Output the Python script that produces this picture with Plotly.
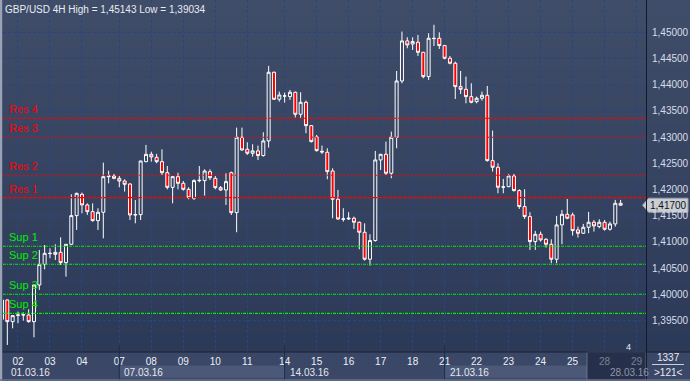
import plotly.graph_objects as go

# ---------------- data ----------------
bar_index = list(range(-1, 116))
open_p = [1.39523, 1.39892, 1.39478, 1.39600, 1.39605, 1.39605, 1.39478, 1.40178, 1.40572, 1.40776,
          1.40763, 1.40801, 1.40604, 1.40954, 1.41501, 1.41908, 1.41705, 1.41577, 1.41405, 1.41565,
          1.42245, 1.42258, 1.42213, 1.42162, 1.42105, 1.41514, 1.41520, 1.42531, 1.42672, 1.42614,
          1.42531, 1.42321, 1.42041, 1.42245, 1.42118, 1.42003, 1.41832, 1.42169, 1.42169, 1.42340,
          1.42213, 1.42035, 1.41991, 1.42321, 1.41559, 1.42997, 1.42768, 1.42691, 1.42736, 1.42647,
          1.42927, 1.44237, 1.43722, 1.43785, 1.43773, 1.43855, 1.43435, 1.43664, 1.43219, 1.43003,
          1.42729, 1.42710, 1.42354, 1.41814, 1.41432, 1.41438, 1.41451, 1.41375, 1.41184, 1.40669,
          1.41025, 1.42564, 1.42672, 1.42310, 1.42997, 1.44071, 1.44835, 1.44777, 1.44809, 1.44618,
          1.44154, 1.44886, 1.44886, 1.44746, 1.44504, 1.44409, 1.43963, 1.43912, 1.43773, 1.43677,
          1.43741, 1.43798, 1.42551, 1.42424, 1.42043, 1.42055, 1.42259, 1.41979, 1.41674, 1.41483,
          1.41006, 1.41146, 1.41050, 1.40955, 1.40669, 1.41324, 1.41527, 1.41515, 1.41229, 1.41165,
          1.41279, 1.41375, 1.41292, 1.41375, 1.41241, 1.41343, 1.41737]
high_p = [1.39920, 1.39900, 1.39600, 1.39669, 1.39656, 1.39714, 1.40185, 1.40846, 1.40941, 1.40878,
          1.40954, 1.41087, 1.40960, 1.41908, 1.41940, 1.41940, 1.41736, 1.41736, 1.41641, 1.42512,
          1.42360, 1.42296, 1.42258, 1.42194, 1.42118, 1.41800, 1.42550, 1.42850, 1.42722, 1.42680,
          1.42767, 1.42449, 1.42258, 1.42321, 1.42162, 1.42042, 1.42194, 1.42449, 1.42385, 1.42385,
          1.42258, 1.42067, 1.42309, 1.42341, 1.43181, 1.43181, 1.42901, 1.42863, 1.42838, 1.43092,
          1.44358, 1.44250, 1.43868, 1.43849, 1.43900, 1.43868, 1.43855, 1.43696, 1.43226, 1.43041,
          1.42838, 1.42787, 1.42405, 1.41992, 1.41642, 1.41566, 1.41483, 1.41387, 1.41355, 1.41146,
          1.42736, 1.42678, 1.42914, 1.43105, 1.44262, 1.45013, 1.44905, 1.44905, 1.44949, 1.44625,
          1.44981, 1.45143, 1.45000, 1.44758, 1.44548, 1.44440, 1.44262, 1.44154, 1.44027, 1.43773,
          1.43868, 1.43976, 1.43124, 1.42501, 1.42202, 1.42297, 1.42297, 1.42004, 1.42004, 1.41566,
          1.41210, 1.41197, 1.41070, 1.41050, 1.41496, 1.41610, 1.41820, 1.41559, 1.41292, 1.41343,
          1.41572, 1.41419, 1.41432, 1.41419, 1.41387, 1.41801, 1.41801]
low_p = [1.39480, 1.39034, 1.39351, 1.39447, 1.39497, 1.39459, 1.39179, 1.40083, 1.40477, 1.40687,
         1.40655, 1.40560, 1.40337, 1.40941, 1.41228, 1.41545, 1.41514, 1.41386, 1.41228, 1.41068,
         1.42118, 1.42194, 1.42042, 1.41959, 1.41418, 1.41355, 1.41418, 1.42520, 1.42531, 1.42500,
         1.42277, 1.42003, 1.41736, 1.42003, 1.41978, 1.41813, 1.41800, 1.42137, 1.41883, 1.42181,
         1.42003, 1.41972, 1.41705, 1.41514, 1.41184, 1.42736, 1.42660, 1.42628, 1.42564, 1.42628,
         1.42799, 1.43709, 1.43677, 1.43658, 1.43709, 1.43372, 1.43359, 1.43073, 1.42895, 1.42723,
         1.42679, 1.42195, 1.41451, 1.41419, 1.41387, 1.41419, 1.41247, 1.40860, 1.40643, 1.40548,
         1.41006, 1.42373, 1.42278, 1.42214, 1.42787, 1.44027, 1.44695, 1.44663, 1.44548, 1.44122,
         1.44090, 1.44739, 1.44682, 1.44485, 1.44389, 1.43728, 1.43823, 1.43645, 1.43645, 1.43645,
         1.43696, 1.42532, 1.42341, 1.41928, 1.41928, 1.42043, 1.41960, 1.41629, 1.41438, 1.40847,
         1.40847, 1.41006, 1.40891, 1.40593, 1.40593, 1.40955, 1.41432, 1.41120, 1.41082, 1.41152,
         1.41165, 1.41197, 1.41260, 1.41216, 1.41216, 1.41292, 1.41693]
close_p = [1.39891, 1.39478, 1.39593, 1.39605, 1.39610, 1.39478, 1.40178, 1.40572, 1.40782, 1.40782,
           1.40801, 1.40604, 1.40954, 1.41501, 1.41927, 1.41705, 1.41577, 1.41405, 1.41565, 1.42245,
           1.42258, 1.42213, 1.42162, 1.42099, 1.41514, 1.41520, 1.42544, 1.42671, 1.42621, 1.42531,
           1.42321, 1.42041, 1.42245, 1.42118, 1.42003, 1.41844, 1.42169, 1.42175, 1.42353, 1.42226,
           1.42035, 1.41991, 1.42150, 1.41558, 1.42997, 1.42755, 1.42691, 1.42736, 1.42647, 1.42927,
           1.44237, 1.43722, 1.43804, 1.43785, 1.43855, 1.43435, 1.43664, 1.43219, 1.42914, 1.42742,
           1.42717, 1.42341, 1.41814, 1.41438, 1.41438, 1.41451, 1.41375, 1.41184, 1.40669, 1.41025,
           1.42564, 1.42672, 1.42310, 1.42997, 1.44071, 1.44835, 1.44758, 1.44822, 1.44618, 1.44154,
           1.44886, 1.44880, 1.44746, 1.44504, 1.44409, 1.43963, 1.43912, 1.43773, 1.43664, 1.43741,
           1.43798, 1.42551, 1.42424, 1.42043, 1.42050, 1.42259, 1.41979, 1.41674, 1.41483, 1.41006,
           1.41146, 1.41038, 1.40955, 1.40669, 1.41324, 1.41527, 1.41451, 1.41216, 1.41165, 1.41279,
           1.41375, 1.41305, 1.41375, 1.41241, 1.41343, 1.41737, 1.41700]

day_ticks = [2, 8, 14, 21, 27, 33, 39, 45, 52, 58, 64, 70, 76, 82, 88, 94, 100, 106, 112, 118]
day_labels = ["02", "03", "04", "07", "08", "09", "10", "11", "14", "15",
              "16", "17", "18", "21", "22", "23", "24", "25", "28", "29"]
week_starts = [-0.8, 21, 52, 82, 112]
week_labels = ["01.03.16", "07.03.16", "14.03.16", "21.03.16", "28.03.16"]

price_ticks = [1.395, 1.400, 1.405, 1.410, 1.415, 1.420, 1.425, 1.430, 1.435, 1.440, 1.445, 1.450]
price_labels = ["1,39500", "1,40000", "1,40500", "1,41000", "1,41500", "1,42000",
                "1,42500", "1,43000", "1,43500", "1,44000", "1,44500", "1,45000"]

level_names = ["Res 4", "Res 3", "Res 2", "Res 1", "Sup 1", "Sup 2", "Sup 3", "Sup 4"]
level_values = [1.43359, 1.42996, 1.42271, 1.41844, 1.40918, 1.40573, 1.40000, 1.39637]
level_colors = ["#ff0000", "#ff0000", "#ff0000", "#ff0000", "#00f000", "#00f000", "#00f000", "#00f000"]
level_dash = ["4px,1px", "2px,2px", "2px,2px", "4px,1px",
              "3px,1px,1px,1px", "3px,1px,1px,1px", "3px,1px,1px,1px", "3px,1px,1px,1px"]

last_price = 1.41700
last_label = "1,41700"
title_text = "GBP/USD 4H High = 1,45143 Low = 1,39034"

# ---------------- geometry ----------------
W, H = 690, 381
ML, MR, MT, MB = 3, 44, 0, 29
PW, PH = W - ML - MR, H - MT - MB
X_RANGE = [-0.81, 119.76]
Y_RANGE = [1.38899, 1.45616]


def px(xp):
    return (xp - ML) / PW


def py(yp):
    return (PH + MT - yp) / PH


FONT = "Liberation Sans, Arial, sans-serif"
GRID = "#284679"

fig = go.Figure()
fig.add_trace(go.Candlestick(
    x=bar_index, open=open_p, high=high_p, low=low_p, close=close_p,
    increasing=dict(line=dict(color="#ffffff", width=1), fillcolor="rgba(0,0,0,0)"),
    decreasing=dict(line=dict(color="#ffffff", width=1), fillcolor="#ff0000"),
    whiskerwidth=0, showlegend=False, hoverinfo="skip",
))

shapes = []
# background gradient (full figure)
N = 40
top_c = (64, 77, 105)
bot_c = (42, 56, 87)
for i in range(N):
    t = i / (N - 1)
    c = tuple(int(round(top_c[j] + (bot_c[j] - top_c[j]) * t)) for j in range(3))
    y0 = i * H / N
    y1 = (i + 1) * H / N + 0.6
    shapes.append(dict(type="rect", xref="paper", yref="paper", x0=px(0), x1=px(W),
                       y0=py(y1), y1=py(y0), fillcolor="rgb(%d,%d,%d)" % c,
                       line=dict(width=0), layer="below"))
# bottom time strip
shapes.append(dict(type="rect", xref="paper", yref="paper", x0=px(0), x1=px(W),
                   y0=py(H), y1=py(352), fillcolor="#3a4767", line=dict(width=0), layer="below"))
# lighter week boxes
for a, b in [(21, 52), (82, 108.7)]:
    shapes.append(dict(type="rect", xref="x", yref="paper", x0=a, x1=b,
                       y0=py(378), y1=py(365.5), fillcolor="#4b5878", line=dict(width=0), layer="below"))
# current price marker
dp = 7 * (Y_RANGE[1] - Y_RANGE[0]) / PH
shapes.append(dict(type="path", xref="paper", yref="y", layer="below",
                   path="M %f,%f L %f,%f L %f,%f L %f,%f L %f,%f Z" % (
                       px(642.5), last_price, px(648.5), last_price + dp,
                       px(688), last_price + dp, px(688), last_price - dp,
                       px(648.5), last_price - dp),
                   fillcolor="#c9cdd4", line=dict(color="#9aa0aa", width=1)))
# week separators
for k in week_starts[1:4]:
    shapes.append(dict(type="line", xref="x", yref="paper", x0=k, x1=k,
                       y0=py(H), y1=py(345), line=dict(color="#1c2d52", width=1)))
# dark overlay at right end of time strip
shapes.append(dict(type="rect", xref="paper", yref="paper", x0=px(587), x1=px(646),
                   y0=py(H), y1=py(352), fillcolor="rgba(22,30,52,0.55)",
                   line=dict(color="rgba(150,160,180,0.5)", width=1)))
# strip borders
shapes.append(dict(type="line", xref="paper", yref="paper", x0=px(0), x1=px(W),
                   y0=py(352), y1=py(352), line=dict(color="#17213a", width=1)))
shapes.append(dict(type="line", xref="paper", yref="paper", x0=px(646.5), x1=px(646.5),
                   y0=py(H), y1=py(0), line=dict(color="#121a2c", width=1)))
shapes.append(dict(type="rect", xref="paper", yref="paper", x0=px(0), x1=px(2.2),
                   y0=py(H), y1=py(0), fillcolor="#9aa3b5", line=dict(width=0)))
shapes.append(dict(type="line", xref="paper", yref="paper", x0=px(0), x1=px(W),
                   y0=py(380), y1=py(380), line=dict(color="#66728c", width=1.5)))
# bottom-right counter separator
shapes.append(dict(type="line", xref="paper", yref="paper", x0=px(652), x1=px(684),
                   y0=py(364.5), y1=py(364.5), line=dict(color="#c8cfdc", width=1)))

# support / resistance levels
for v, c, d in zip(level_values, level_colors, level_dash):
    shapes.append(dict(type="line", xref="paper", yref="y", x0=0, x1=1, y0=v, y1=v,
                       line=dict(color=c, width=1.1, dash=d)))

annotations = []
annotations.append(dict(text=title_text, xref="paper", yref="paper", x=px(3), y=py(9.5),
                        xanchor="left", yanchor="middle", showarrow=False,
                        font=dict(family=FONT, size=10, color="#e8ebf1")))
# price scale labels
for v, lab in zip(price_ticks, price_labels):
    annotations.append(dict(text=lab, xref="paper", yref="y", x=px(650), y=v,
                            xanchor="left", yanchor="middle", showarrow=False,
                            font=dict(family=FONT, size=10, color="#d8dde8")))
for name, v, c in zip(level_names, level_values, level_colors):
    annotations.append(dict(text=name, xref="paper", yref="y", x=px(7), y=v, yshift=9,
                            xanchor="left", yanchor="middle", showarrow=False,
                            font=dict(family=FONT, size=11, color=c)))
for k, lab in zip(week_starts, week_labels):
    dim = lab == week_labels[-1]
    annotations.append(dict(text=lab, xref="x", yref="paper", x=k, xshift=3 if k > 0 else 6,
                            y=py(372.5), xanchor="left", yanchor="middle", showarrow=False,
                            font=dict(family=FONT, size=10, color="#8e96a8" if dim else "#e4e8ef")))
annotations.append(dict(text=last_label, xref="paper", yref="y",
                        x=px(668.5), y=last_price, xanchor="center", yanchor="middle",
                        showarrow=False, font=dict(family=FONT, size=10, color="#111111")))
annotations.append(dict(text="1337", xref="paper", yref="paper", x=px(668), y=py(357.5),
                        xanchor="center", yanchor="middle", showarrow=False,
                        font=dict(family=FONT, size=10, color="#e8ebf1")))
annotations.append(dict(text="&gt;121&lt;", xref="paper", yref="paper", x=px(668), y=py(372),
                        xanchor="center", yanchor="middle", showarrow=False,
                        font=dict(family=FONT, size=10, color="#e8ebf1")))
annotations.append(dict(text="4", xref="paper", yref="paper", x=px(628), y=py(347),
                        xanchor="center", yanchor="middle", showarrow=False,
                        font=dict(family=FONT, size=9, color="#e8ebf1")))

fig.update_layout(
    width=W, height=H,
    margin=dict(l=ML, r=MR, t=MT, b=MB, pad=0),
    paper_bgcolor="#34415f",
    plot_bgcolor="rgba(0,0,0,0)",
    showlegend=False,
    boxgap=0.44, boxgroupgap=0,
    shapes=shapes,
    annotations=annotations,
    xaxis=dict(range=X_RANGE, rangeslider=dict(visible=False), showgrid=True,
               gridcolor=GRID, griddash="3px,2px", gridwidth=1,
               tickmode="array", tickvals=day_ticks, ticktext=day_labels,
               ticks="", zeroline=False, showline=False, ticklabelstandoff=2,
               tickfont=dict(family=FONT, size=10, color="#eef0f5")),
    yaxis=dict(range=Y_RANGE, side="right", showgrid=True, gridcolor=GRID,
               griddash="3px,2px", gridwidth=1, tickmode="array", tickvals=price_ticks,
               showticklabels=False, ticks="", zeroline=False, showline=False),
)

fig.write_html(
    "out.html",
    config={"displayModeBar": False, "staticPlot": True},
    post_script="document.body.style.margin='0';document.body.style.overflow='hidden';",
)
